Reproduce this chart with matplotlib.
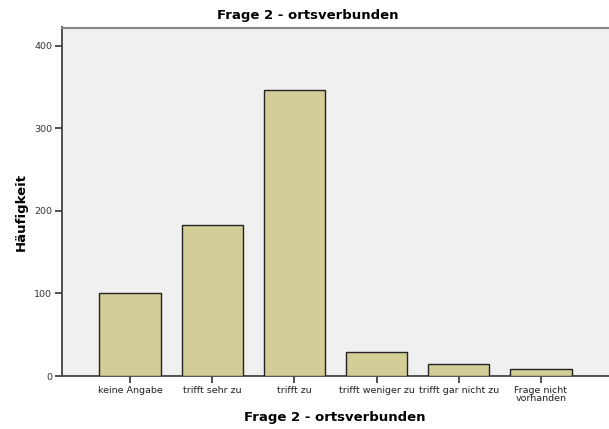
import matplotlib
matplotlib.use("Agg")
import matplotlib.pyplot as plt

categories = ["keine Angabe", "trifft sehr zu", "trifft zu", "trifft weniger zu",
              "trifft gar nicht zu", "Frage nicht\nvorhanden"]
counts = [100, 183, 346, 29, 14, 8]
yticks = [0, 100, 200, 300, 400]

W, H = 609, 429
fig = plt.figure(figsize=(W / 100, H / 100), dpi=100)
ax = fig.add_axes([62 / W, 1 - 376 / H, (609 - 62) / W, (376 - 27.5) / H])
ax.set_facecolor("#F0F0F0")

x = list(range(len(categories)))
ax.bar(x, counts, width=0.75, color="#D3CE98", edgecolor="#222222", linewidth=1.0, zorder=3)

ax.set_xlim(-0.83, len(categories) - 1 + 0.83)
ax.set_ylim(0, 422)
ax.set_xticks(x)
ax.set_xticklabels(categories, fontsize=6.8, family="DejaVu Sans", linespacing=0.95,
                   color="#222222")
ax.set_yticks(yticks)
ax.set_yticklabels([str(v) for v in yticks], fontsize=6.8, family="DejaVu Sans",
                   color="#333333")
ax.tick_params(axis="both", direction="out", length=5, width=1.2, color="#333333", pad=2)

ax.spines["right"].set_visible(False)
ax.spines["top"].set_color("#888888")
ax.spines["top"].set_linewidth(1.5)
ax.spines["left"].set_color("#444444")
ax.spines["left"].set_linewidth(1.3)
ax.spines["bottom"].set_color("#444444")
ax.spines["bottom"].set_linewidth(1.3)

fig.text(308 / W, 1 - 16 / H, "Frage 2 - ortsverbunden", ha="center", va="center",
         fontsize=9.5, fontweight="bold", family="DejaVu Sans")
fig.text(335 / W, 1 - 417 / H, "Frage 2 - ortsverbunden", ha="center", va="center",
         fontsize=9.5, fontweight="bold", family="DejaVu Sans")
fig.text(21 / W, 1 - 212 / H, "Häufigkeit", ha="center", va="center", rotation=90,
         fontsize=9.5, fontweight="bold", family="DejaVu Sans")

fig.savefig("out.png", dpi=100, facecolor="white")
